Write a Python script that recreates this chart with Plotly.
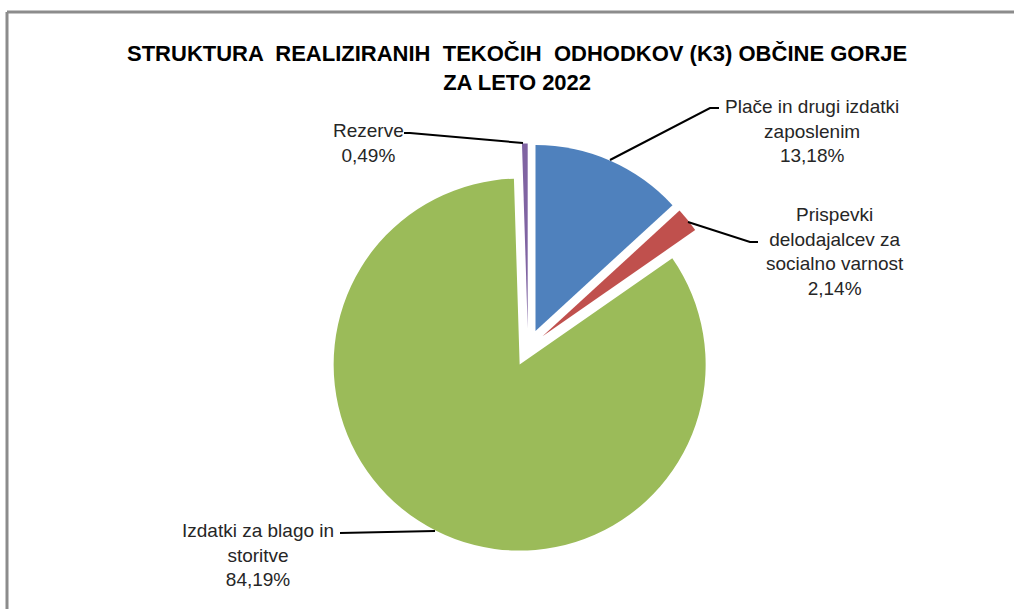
import math
import plotly.graph_objects as go

# ---- data ----
categories = [
    "Plače in drugi izdatki zaposlenim",
    "Prispevki delodajalcev za socialno varnost",
    "Izdatki za blago in storitve",
    "Rezerve",
]
label_lines = [
    "Plače in drugi izdatki<br>zaposlenim",
    "Prispevki<br>delodajalcev za<br>socialno varnost",
    "Izdatki za blago in<br>storitve",
    "Rezerve",
]
shares = [13.18, 2.14, 84.19, 0.49]
colors = ["#4F81BD", "#C0504D", "#9BBB59", "#8064A2"]
title_text = "STRUKTURA  REALIZIRANIH  TEKOČIH  ODHODKOV (K3) OBČINE GORJE<br>ZA LETO 2022"

W, H = 1014, 609
PULL = 0.1
CX, CY = 528, 348          # pie centre (px)
R = 186                    # pie radius (px)
box = 2 * R * (1 + PULL)

def px(x):
    return x / W

def py(y):
    return 1 - y / H

fig = go.Figure(go.Pie(
    labels=categories,
    values=shares,
    sort=False,
    direction="clockwise",
    rotation=0,
    pull=[PULL] * len(shares),
    marker=dict(colors=colors, line=dict(width=0)),
    textinfo="none",
    hoverinfo="label+percent",
    showlegend=False,
    domain=dict(x=[px(CX - box / 2), px(CX + box / 2)],
                y=[py(CY + box / 2), py(CY - box / 2)]),
))

# label positions (px) and leader line paths (px)
label_pos = [(812, 131), (835, 251), (258, 555), (368, 143)]
leaders = [
    [(610, 160), (710, 108), (719, 108)],
    [(688, 222), (750, 242), (758, 242)],
    [(435, 531), (340, 533)],
    [(523, 143), (410, 133), (404, 133)],
]

font_lab = dict(family="Liberation Sans, Arial, sans-serif", size=19, color="#262626")
for i, (lx, ly) in enumerate(label_pos):
    txt = f"{label_lines[i]}<br>{shares[i]:.2f}%".replace(".", ",")
    fig.add_annotation(x=px(lx), y=py(ly), xref="paper", yref="paper",
                       text=txt, showarrow=False, align="center",
                       xanchor="center", yanchor="middle", font=font_lab)

for pts in leaders:
    path = "M " + " L ".join(f"{px(x)},{py(y)}" for x, y in pts)
    fig.add_shape(type="path", path=path, xref="paper", yref="paper",
                  line=dict(color="black", width=2))

# chart frame (top and left edges visible)
fig.add_shape(type="line", xref="paper", yref="paper",
              x0=px(7), y0=py(12), x1=1, y1=py(12),
              line=dict(color="#8C8C8C", width=3))
fig.add_shape(type="line", xref="paper", yref="paper",
              x0=px(7), y0=py(12), x1=px(7), y1=0,
              line=dict(color="#8C8C8C", width=3))

fig.add_annotation(x=px(517), y=py(68), xref="paper", yref="paper",
                   text=f"<b>{title_text}</b>", showarrow=False, align="center",
                   xanchor="center", yanchor="middle",
                   font=dict(family="Liberation Sans, Arial, sans-serif",
                             size=22, color="black"))

fig.update_layout(width=W, height=H, margin=dict(l=0, r=0, t=0, b=0),
                  paper_bgcolor="white", plot_bgcolor="white")

fig.write_html("out.html",
               config={"displayModeBar": False},
               post_script="document.body.style.margin='0';document.body.style.overflow='hidden';")
